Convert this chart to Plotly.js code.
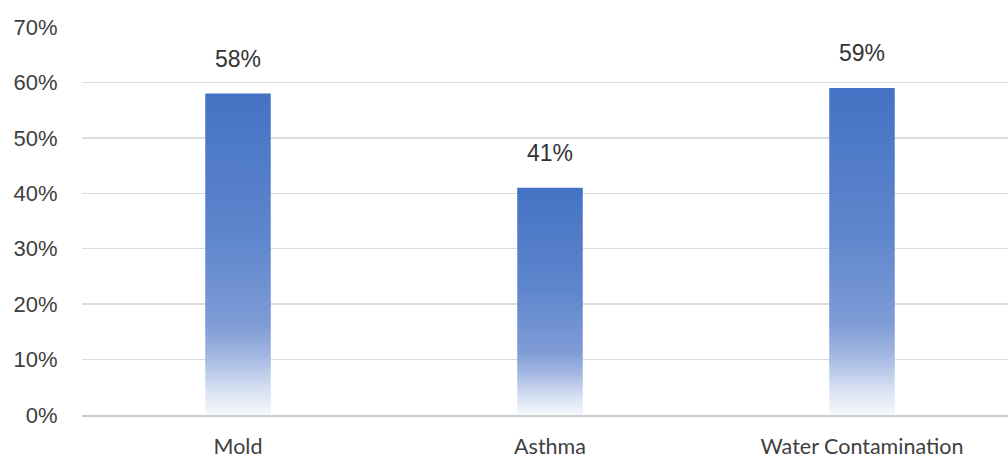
<!DOCTYPE html>
<html>
<head>
<meta charset="utf-8">
<script src="https://cdn.plot.ly/plotly-3.0.1.min.js"></script>
<style>
html,body{margin:0;padding:0;overflow:hidden;background:#fff;}
#chart{width:1020px;height:458px;}
</style>
</head>
<body>
<div id="chart"></div>
<script>
const categories = ["Mold", "Asthma", "Water Contamination"];
const values = [58, 41, 59];
const valueLabels = ["58%", "41%", "59%"];
const yTickVals = [0, 10, 20, 30, 40, 50, 60, 70];
const yTickText = ["0%", "10%", "20%", "30%", "40%", "50%", "60%", "70%"];

const trace = {
  type: "bar",
  x: categories,
  y: values,
  width: 0.21,
  marker: {color: "#4472C4", line: {width: 0}},
  hoverinfo: "none"
};

const annotations = categories.map((c, i) => ({
  x: c, y: values[i], text: valueLabels[i],
  showarrow: false, yanchor: "middle", yshift: 35,
  font: {family: "Liberation Sans, Arial, sans-serif", size: 23, color: "#333333"}
}));

const layout = {
  width: 1020, height: 458,
  margin: {l: 82, r: 2, t: 27, b: 43},
  paper_bgcolor: "#ffffff", plot_bgcolor: "#ffffff",
  showlegend: false,
  xaxis: {
    type: "category",
    showgrid: false, zeroline: false,
    showline: true, linecolor: "#cccccc", linewidth: 2,
    ticks: "outside", ticklen: 11, tickcolor: "rgba(0,0,0,0)",
    tickfont: {family: "Lato, Carlito, sans-serif", size: 21.5, color: "#404040"}
  },
  yaxis: {
    range: [0, 70], fixedrange: true,
    tickvals: yTickVals, ticktext: yTickText,
    showgrid: true, gridcolor: "#dcdcdc", gridwidth: 1.5,
    zeroline: false, showline: false,
    ticks: "outside", ticklen: 19, tickcolor: "rgba(0,0,0,0)",
    tickfont: {family: "Liberation Sans, Arial, sans-serif", size: 22, color: "#404040"}
  },
  annotations: annotations
};

Plotly.newPlot("chart", [trace], layout, {displayModeBar: false, staticPlot: true}).then(gd => {
  const svg = gd.querySelector("svg.main-svg");
  const ns = "http://www.w3.org/2000/svg";
  let defs = svg.querySelector("defs");
  if (!defs) { defs = document.createElementNS(ns, "defs"); svg.insertBefore(defs, svg.firstChild); }
  const grad = document.createElementNS(ns, "linearGradient");
  grad.setAttribute("id", "barGrad");
  grad.setAttribute("x1", "0"); grad.setAttribute("y1", "0");
  grad.setAttribute("x2", "0"); grad.setAttribute("y2", "1");
  const stops = [[0, "#4472C4"], [0.45, "#5f86cd"], [0.72, "#7e9bd6"], [0.82, "#a4b8e2"], [0.92, "#d6e0f2"], [1, "#f6f8fc"]];
  stops.forEach(s => {
    const st = document.createElementNS(ns, "stop");
    st.setAttribute("offset", s[0]);
    st.setAttribute("stop-color", s[1]);
    grad.appendChild(st);
  });
  defs.appendChild(grad);
  gd.querySelectorAll(".bars .point path").forEach(p => {
    p.style.fill = "url(#barGrad)";
  });
});
</script>
</body>
</html>
